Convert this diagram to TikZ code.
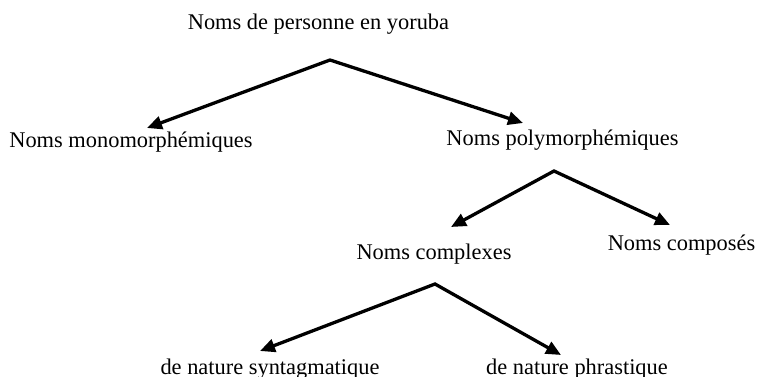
\documentclass[tikz,border=0pt]{standalone}
\usepackage{fontspec}
\setmainfont{Liberation Serif}
\usepackage{tikz}
\usetikzlibrary{positioning,arrows.meta}
\tikzset{
  basic/.style = {font=\fontsize{22.4}{26}\selectfont, inner sep=0pt, anchor=base},
  edge/.style  = {{Triangle[length=15pt,width=13pt]}-{Triangle[length=15pt,width=13pt]},
                  line width=3.3pt, line join=miter}
}

\begin{document}
\begin{tikzpicture}[x=1pt, y=-1pt]
    \useasboundingbox (0,0) rectangle (758,377);
    \node[basic] (root) at (318.5,30) {Noms de personne en yoruba};
    \node[basic] (mono) at (131,148) {Noms monomorphémiques};
    \node[basic] (poly) at (562.5,146) {Noms polymorphémiques};
    \node[basic] (cplx) at (434,259) {Noms complexes};
    \node[basic] (comp) at (681.5,250) {Noms composés};
    \node[basic] (synt) at (270,374) {de nature syntagmatique};
    \node[basic] (phra) at (577,374) {de nature phrastique};
    % forks and arrow ends
    \coordinate (fork1) at (330,60);
    \coordinate (mono-in) at (147,128);
    \coordinate (poly-in) at (523,123);
    \coordinate (fork2) at (554,171);
    \coordinate (cplx-in) at (451,227);
    \coordinate (comp-in) at (670,225);
    \coordinate (fork3) at (435,284);
    \coordinate (synt-in) at (260,351);
    \coordinate (phra-in) at (561,355);
    \draw[edge] (mono-in) -- (fork1) -- (poly-in);
    \draw[edge] (cplx-in) -- (fork2) -- (comp-in);
    \draw[edge] (synt-in) -- (fork3) -- (phra-in);
\end{tikzpicture}
\end{document}
